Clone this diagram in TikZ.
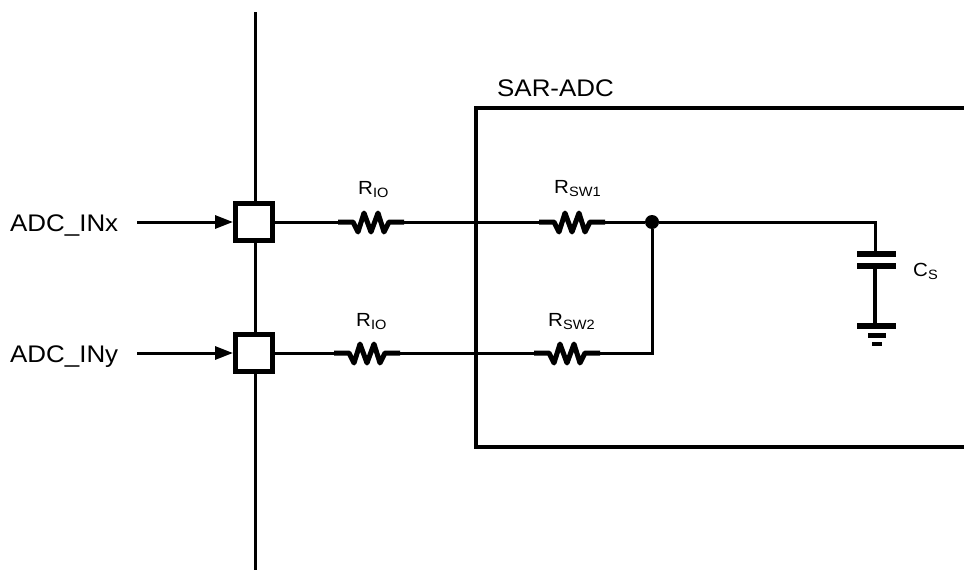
\documentclass[tikz,border=0pt]{standalone}
\usepackage{fontspec}
\setmainfont{Liberation Sans}[FakeStretch=1.08]
\usetikzlibrary{arrows.meta}
\tikzset{
  wire/.style={line width=3pt},
  bus/.style={line width=3pt},
  resthick/.style={line width=5pt, line join=round},
  pinbox/.style={draw, fill=white, line width=5pt, minimum size=37pt, inner sep=0pt},
  plate/.style={fill=black, inner sep=0pt, minimum width=39pt, minimum height=6pt},
  bigtxt/.style={font=\fontsize{24}{26}\selectfont, inner sep=0pt},
  smalltxt/.style={font=\fontsize{19}{21}\selectfont, inner sep=0pt},
  inarrow/.style={wire, -{Triangle[length=18pt, width=13pt]}},
  res/.pic={
    \draw[resthick] (-33,0) -- (-18,0) -- (-13,10) -- (-7,-9) -- (0,10) -- (7,-9) -- (13,10) -- (18,0) -- (33,0);
    \coordinate (-w) at (-33,0);
    \coordinate (-e) at (33,0);
  }
}
\newcommand{\sub}[1]{\textsubscript{\fontsize{13.5}{14}\selectfont #1}}
\begin{document}
\begin{tikzpicture}[x=1pt, y=-1pt]
\useasboundingbox (0,0) rectangle (964,570);

% SAR-ADC box
\coordinate (sartr) at (968,108);
\coordinate (sartl) at (476,108);
\coordinate (sarbl) at (476,447);
\coordinate (sarbr) at (968,447);
\draw[line width=4pt] (sartr) -- (sartl) -- (sarbl) -- (sarbr);
\node[bigtxt, anchor=base west] (sarlbl) at (497,96) {SAR-ADC};

% bus
\coordinate (bustop) at (255,12);
\coordinate (busbot) at (255,572);
\draw[bus] (bustop) -- (busbot);

% pins
\node[pinbox] (pinx) at (254,222) {};
\node[pinbox] (piny) at (254,353) {};

% inputs
\node[bigtxt, anchor=base west] (inx) at (10,231) {ADC\_INx};
\node[bigtxt, anchor=base west] (iny) at (10,362) {ADC\_INy};
\coordinate (inxs) at (137,222);
\coordinate (inys) at (137,353);
\draw[inarrow] (inxs) -- (pinx.west);
\draw[inarrow] (inys) -- (piny.west);

% resistors
\pic (rio1) at (371,222) {res};
\pic (rio2) at (367,353) {res};
\pic (rsw1) at (572,222) {res};
\pic (rsw2) at (567,353) {res};

\node[smalltxt, anchor=base west] (lrio1) at (358,194) {R\sub{IO}};
\node[smalltxt, anchor=base west] (lrio2) at (356,326) {R\sub{IO}};
\node[smalltxt, anchor=base west] (lrsw1) at (554,193) {R\sub{SW1}};
\node[smalltxt, anchor=base west] (lrsw2) at (548,326) {R\sub{SW2}};

% junction
\node[circle, fill=black, inner sep=0pt, minimum size=14pt] (dot) at (652,222) {};
\coordinate (sw2corner) at (652,353);
\coordinate (capcorner) at (875,222);

% capacitor and ground
\node[plate] (cstop) at (876,254) {};
\node[plate] (csbot) at (876,266) {};
\node[plate] (gnd1) at (876,326) {};
\node[plate, minimum width=18pt, minimum height=5pt] (gnd2) at (877,335.5) {};
\node[plate, minimum width=10pt, minimum height=4pt] (gnd3) at (877,344) {};
\node[smalltxt, anchor=base west] (lcs) at (913,276) {C\sub{S}};

% wires
\draw[wire] (pinx.east) -- (rio1-w);
\draw[wire] (rio1-e) -- (rsw1-w);
\draw[wire] (rsw1-e) -- (dot);
\draw[wire] (piny.east) -- (rio2-w);
\draw[wire] (rio2-e) -- (rsw2-w);
\draw[wire] (rsw2-e) -- (sw2corner) -- (dot);
\draw[wire] (dot) -- (capcorner) -- (cstop.north -| capcorner);
\draw[line width=3.5pt] (csbot.south -| capcorner) -- (gnd1.north -| capcorner);
\end{tikzpicture}
\end{document}
